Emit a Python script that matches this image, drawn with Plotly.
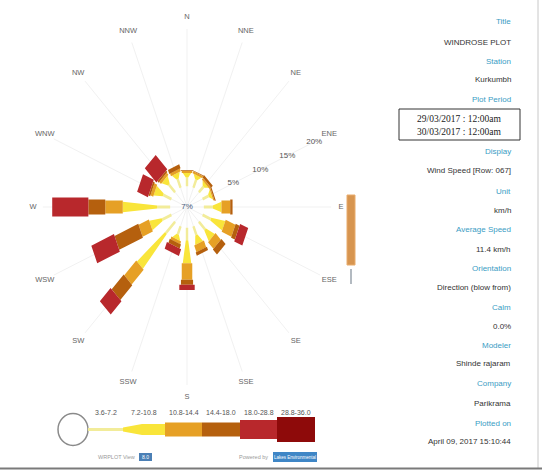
import math
import plotly.graph_objects as go

# ---- data -------------------------------------------------------------
directions = ["N", "NNE", "NE", "ENE", "E", "ESE", "SE", "SSE",
              "S", "SSW", "SW", "WSW", "W", "WNW", "NW", "NNW"]
speed_classes = ["3.6-7.2", "7.2-10.8", "10.8-14.4", "14.4-18.0", "18.0-28.8", "28.8-36.0"]
class_colors = ["#f2ec9a", "#f9e53a", "#e6a025", "#b5600e", "#b8282c", "#8e0a0a"]

# frequency (%) of each speed class, per direction (blow from)
freq_c1 = [0.5, 0.5, 0.4, 0.4, 0.8, 0.8, 0.8, 0.6, 1.0, 0.5, 1.5, 1.0, 1.5, 0.8, 0.8, 0.6]
freq_c2 = [0.6, 0.6, 0.5, 0.5, 1.5, 2.4, 1.6, 1.2, 3.2, 0.7, 6.3, 2.1, 5.9, 1.5, 1.0, 0.8]
freq_c3 = [0.3, 0.3, 0.3, 0.2, 1.5, 1.8, 1.3, 1.0, 2.3, 0.4, 2.9, 1.9, 3.0, 0.5, 0.4, 0.4]
freq_c4 = [0.1, 0.1, 0.4, 0.2, 0.4, 0.7, 1.0, 0.5, 0.7, 0.6, 2.9, 4.4, 2.9, 0.3, 0.3, 0.6]
freq_c5 = [0.0, 0.0, 0.0, 0.0, 0.0, 1.5, 0.0, 0.0, 0.7, 1.0, 2.6, 4.2, 6.2, 2.0, 2.8, 0.0]
freq_c6 = [0.0] * 16
freqs = [freq_c1, freq_c2, freq_c3, freq_c4, freq_c5, freq_c6]

ring_ticks = [5, 10, 15, 20]
center_text = "7%"

info_rows = [
    ("Title", "WINDROSE PLOT"),
    ("Station", "Kurkumbh"),
    ("Plot Period", None),
    ("Display", "Wind Speed [Row: 067]"),
    ("Unit", "km/h"),
    ("Average Speed", "11.4 km/h"),
    ("Orientation", "Direction (blow from)"),
    ("Calm", "0.0%"),
    ("Modeler", "Shinde rajaram"),
    ("Company", "Parikrama"),
    ("Plotted on", "April 09, 2017 15:10:44"),
]
period_lines = ["29/03/2017 : 12:00am", "30/03/2017 : 12:00am"]

# ---- geometry helpers -------------------------------------------------
W, H = 542, 471
CX, CY = 187, 207          # rose centre in page pixels
XSCALE = 0.81              # horizontal compression of the rose
R0, K = 26.0, 7.2          # calm radius and pixels per percent


def radius(p):
    return R0 + K * p


# start / end widths of each class petal
w_start = [3, 3, 13, 15, 19, 24]
w_end = [3, 10.5, 13, 15, 19, 24]


def segment(theta_deg, r0, r1, w0, w1):
    t = math.radians(theta_deg)
    ux, uy = math.sin(t), math.cos(t)
    vx, vy = math.cos(t), -math.sin(t)
    pts = [
        (r0 * ux + w0 / 2 * vx, r0 * uy + w0 / 2 * vy),
        (r1 * ux + w1 / 2 * vx, r1 * uy + w1 / 2 * vy),
        (r1 * ux - w1 / 2 * vx, r1 * uy - w1 / 2 * vy),
        (r0 * ux - w0 / 2 * vx, r0 * uy - w0 / 2 * vy),
    ]
    pts.append(pts[0])
    return [p[0] for p in pts], [p[1] for p in pts]


def px(x):
    return x / W


def py(y):
    return 1 - y / H


FONT = "Arial, Liberation Sans, sans-serif"
fig = go.Figure()

# spokes
sx, sy = [], []
for i, d in enumerate(directions):
    t = math.radians(i * 22.5)
    sx += [0, 178 * math.sin(t), None]
    sy += [0, 178 * math.cos(t), None]
fig.add_trace(go.Scatter(x=sx, y=sy, mode="lines", line=dict(color="#f1f1f1", width=1),
                         hoverinfo="skip", showlegend=False))

# petals
cum = [0.0] * len(directions)
for k, name in enumerate(speed_classes):
    xs, ys = [], []
    for i, d in enumerate(directions):
        v = freqs[k][i]
        if v <= 0:
            continue
        r0, r1 = radius(cum[i]), radius(cum[i] + v)
        if k == 0:
            r0 = R0 * 0.8
        x, y = segment(i * 22.5, r0, r1, w_start[k], w_end[k])
        xs += x + [None]
        ys += y + [None]
        cum[i] += v
    if xs:
        fig.add_trace(go.Scatter(x=xs, y=ys, mode="lines", fill="toself",
                                 fillcolor=class_colors[k], line=dict(width=0, color=class_colors[k]),
                                 name=name, showlegend=False, hoverinfo="skip"))

# direction labels
lx = [190 * math.sin(math.radians(i * 22.5)) for i in range(16)]
ly = [190 * math.cos(math.radians(i * 22.5)) for i in range(16)]
fig.add_trace(go.Scatter(x=lx, y=ly, mode="text", text=directions,
                         textfont=dict(family=FONT, size=7.5, color="#666"),
                         hoverinfo="skip", showlegend=False))

# ring tick labels along the ENE spoke
ta = math.radians(67.5)
fig.add_trace(go.Scatter(x=[radius(p) * math.sin(ta) for p in ring_ticks],
                         y=[radius(p) * math.cos(ta) for p in ring_ticks],
                         mode="text", text=[f"{p}%" for p in ring_ticks],
                         textfont=dict(family=FONT, size=8, color="#555"),
                         hoverinfo="skip", showlegend=False))

fig.add_trace(go.Scatter(x=[0], y=[0], mode="text", text=[center_text],
                         textfont=dict(family=FONT, size=8, color="#4a5a7a"),
                         hoverinfo="skip", showlegend=False))

shapes = []
annotations = []

# side scale bar beside the rose
shapes.append(dict(type="rect", xref="paper", yref="paper", x0=px(347), x1=px(355), y0=py(195), y1=py(265),
                   fillcolor="#d79550", line=dict(color="#e9ac6c", width=1)))
shapes.append(dict(type="line", xref="paper", yref="paper", x0=px(351), x1=px(351), y0=py(269), y1=py(284),
                   line=dict(color="#9aa3ad", width=1.5)))

# speed legend
lc = 429.5
shapes.append(dict(type="circle", xref="paper", yref="paper", x0=px(58), x1=px(88), y0=py(lc - 16), y1=py(lc + 16),
                   line=dict(color="#8a8a8a", width=1.5)))
shapes.append(dict(type="rect", xref="paper", yref="paper", x0=px(88), x1=px(123), y0=py(lc - 1.5), y1=py(lc + 1.5),
                   fillcolor=class_colors[0], line=dict(width=0)))
path = "M {} {} L {} {} L {} {} L {} {} L {} {} L {} {} Z".format(
    px(123), py(lc - 2), px(142), py(lc - 5.5), px(165), py(lc - 5.5),
    px(165), py(lc + 5.5), px(142), py(lc + 5.5), px(123), py(lc + 2))
shapes.append(dict(type="path", xref="paper", yref="paper", path=path,
                   fillcolor=class_colors[1], line=dict(width=0)))
leg_x = [88, 123, 165, 202, 240, 277, 315]
leg_h = [3, 11, 14, 14, 19, 25]
for k in range(2, 6):
    shapes.append(dict(type="rect", xref="paper", yref="paper", x0=px(leg_x[k]), x1=px(leg_x[k + 1]),
                       y0=py(lc - leg_h[k] / 2), y1=py(lc + leg_h[k] / 2),
                       fillcolor=class_colors[k], line=dict(width=0)))
for k, name in enumerate(speed_classes):
    annotations.append(dict(xref="paper", yref="paper", x=px((leg_x[k] + leg_x[k + 1]) / 2), y=py(412),
                            text=name, showarrow=False, xanchor="center", yanchor="middle",
                            font=dict(family=FONT, size=7, color="#555")))

# footer badges
annotations.append(dict(xref="paper", yref="paper", x=px(137), y=py(457), text="WRPLOT View",
                        showarrow=False, xanchor="right", yanchor="middle",
                        font=dict(family=FONT, size=5.5, color="#9a9a9a")))
shapes.append(dict(type="rect", xref="paper", yref="paper", x0=px(139), x1=px(152), y0=py(453), y1=py(461),
                   fillcolor="#4b7fb5", line=dict(width=0)))
annotations.append(dict(xref="paper", yref="paper", x=px(145.5), y=py(457), text="8.0",
                        showarrow=False, xanchor="center", yanchor="middle",
                        font=dict(family=FONT, size=5, color="white")))
annotations.append(dict(xref="paper", yref="paper", x=px(270), y=py(457), text="Powered by",
                        showarrow=False, xanchor="right", yanchor="middle",
                        font=dict(family=FONT, size=5.5, color="#9a9a9a")))
shapes.append(dict(type="rect", xref="paper", yref="paper", x0=px(273), x1=px(317), y0=py(452), y1=py(462),
                   fillcolor="#3f86c6", line=dict(width=0)))
annotations.append(dict(xref="paper", yref="paper", x=px(295), y=py(457), text="Lakes Environmental",
                        showarrow=False, xanchor="center", yanchor="middle",
                        font=dict(family=FONT, size=4.5, color="white")))

# info panel
row_y = [22, 43, 62, 80, 100, None, 152, 171, 191, 210, 229, 249, 268, 287, 307, 326, 345, 363, 383, 403, 423, 441]
yi = 0
for head, val in info_rows:
    annotations.append(dict(xref="paper", yref="paper", x=px(513), y=py(row_y[yi]), text=head,
                            showarrow=False, xanchor="right", yanchor="middle",
                            font=dict(family=FONT, size=8, color="#3a9cc4")))
    yi += 1
    if val is not None:
        annotations.append(dict(xref="paper", yref="paper", x=px(513), y=py(row_y[yi]), text=val,
                                showarrow=False, xanchor="right", yanchor="middle",
                                font=dict(family=FONT, size=8, color="#333")))
    yi += 1

shapes.append(dict(type="rect", xref="paper", yref="paper", x0=px(399), x1=px(520), y0=py(109), y1=py(140),
                   line=dict(color="#333", width=1)))
for j, line in enumerate(period_lines):
    annotations.append(dict(xref="paper", yref="paper", x=px(459.5), y=py(119 + 13 * j), text=line,
                            showarrow=False, xanchor="center", yanchor="middle",
                            font=dict(family="Liberation Serif, Times New Roman, serif", size=9.5, color="#222")))

# frame lines
shapes.append(dict(type="line", xref="paper", yref="paper", x0=px(538), x1=px(538), y0=py(0), y1=py(468),
                   line=dict(color="#c8c8c8", width=1)))
shapes.append(dict(type="line", xref="paper", yref="paper", x0=0, x1=1, y0=py(468.5), y1=py(468.5),
                   line=dict(color="#7a7a7a", width=2)))

fig.update_layout(
    width=W, height=H, autosize=False,
    margin=dict(l=0, r=0, t=0, b=0),
    paper_bgcolor="white", plot_bgcolor="white",
    xaxis=dict(range=[-CX / XSCALE, (W - CX) / XSCALE], visible=False, domain=[0, 1]),
    yaxis=dict(range=[CY - H, CY], visible=False, domain=[0, 1]),
    shapes=shapes, annotations=annotations,
)

fig.write_html("out.html")
